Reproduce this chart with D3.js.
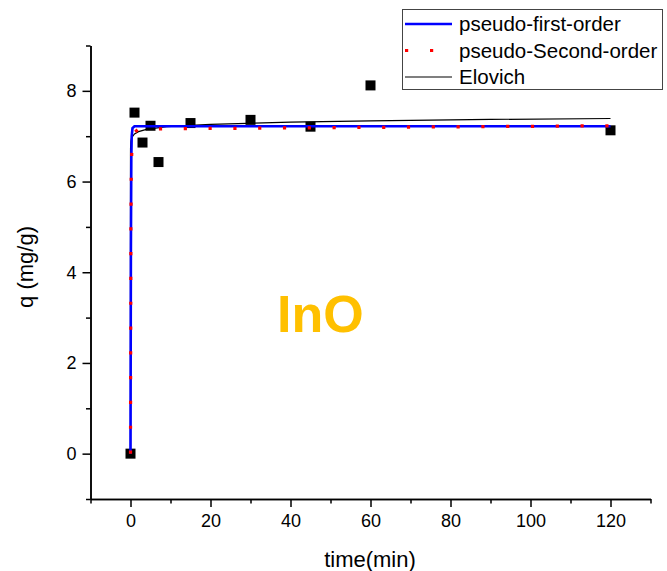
<!DOCTYPE html>
<meta charset="utf-8">
<script src="https://d3js.org/d3.v7.min.js"></script>
<style>
  body { margin: 0; background: #fff; }
  text { font-family: Arial, "Liberation Sans", sans-serif; }
</style>
<div id="chart"></div>
<script>

// measured points
var timeData = [0, 1, 3, 5, 7, 15, 30, 45, 60, 120];
var qData = [0, 7.52, 6.86, 7.23, 6.43, 7.29, 7.36, 7.21, 8.12, 7.13];

// fitted curves
var pfoTime = [0, 0.1, 0.2, 0.3, 0.5, 1, 120];
var pfoQ = [0, 4.5, 6.5, 7.0, 7.18, 7.22, 7.22];

var psoTime = [0, 0.1, 0.2, 0.4, 1, 2, 120];
var psoQ = [0, 5.0, 6.3, 6.85, 7.08, 7.16, 7.23];

var eloTime = [0, 0.001, 0.01, 0.1, 0.3, 1, 2, 4, 9, 20, 40, 60, 90, 120];
var eloQ = [0, 6.56, 6.73, 6.89, 6.97, 7.05, 7.10, 7.15, 7.21, 7.26, 7.31, 7.34, 7.37, 7.39];

var xMajor = [0, 20, 40, 60, 80, 100, 120];
var xMinor = [-10, 10, 30, 50, 70, 90, 110, 130];
var yMajor = [0, 2, 4, 6, 8];
var yMinor = [-1, 1, 3, 5, 7, 9];

var legendNames = ["pseudo-first-order", "pseudo-Second-order", "Elovich"];

var width = 667, height = 571;

var svg = d3.select("#chart")
  .append("svg")
    .attr("width", width)
    .attr("height", height);

var x = d3.scaleLinear().domain([-10, 130]).range([90.5, 650.5]);
var y = d3.scaleLinear().domain([-1, 9]).range([499, 45.5]);

// axes
var xAxis = svg.append("g")
  .attr("transform", "translate(0,499)")
  .call(d3.axisBottom(x).tickValues(xMajor).tickSize(8).tickSizeOuter(0).tickPadding(7));
svg.append("g")
  .attr("transform", "translate(0,499)")
  .call(d3.axisBottom(x).tickValues(xMinor).tickSize(4.5).tickSizeOuter(0).tickFormat(""));

var yAxis = svg.append("g")
  .attr("transform", "translate(90.5,0)")
  .call(d3.axisLeft(y).tickValues(yMajor).tickSize(8).tickSizeOuter(0).tickPadding(6));
svg.append("g")
  .attr("transform", "translate(90.5,0)")
  .call(d3.axisLeft(y).tickValues(yMinor).tickSize(4.5).tickSizeOuter(0).tickFormat(""));

svg.selectAll(".domain, .tick line")
  .attr("stroke", "#000")
  .attr("stroke-width", 1.5);
svg.selectAll(".tick text")
  .attr("fill", "#000")
  .style("font-size", "18px");

// axis titles
svg.append("text")
  .attr("x", 370)
  .attr("y", 567)
  .attr("text-anchor", "middle")
  .style("font-size", "22px")
  .text("time(min)");

svg.append("text")
  .attr("transform", "translate(33,267) rotate(-90)")
  .attr("text-anchor", "middle")
  .style("font-size", "22px")
  .text("q (mg/g)");

// data squares
svg.selectAll("rect.pt")
  .data(timeData)
  .enter()
  .append("rect")
    .attr("class", "pt")
    .attr("x", function(d){ return x(d) - 5 })
    .attr("y", function(d, i){ return y(qData[i]) - 5 })
    .attr("width", 10)
    .attr("height", 10)
    .attr("fill", "#000");

var line = d3.line()
  .x(function(d){ return x(d[0]) })
  .y(function(d){ return y(d[1]) });

var pfo = pfoTime.map(function(t, i){ return [t, pfoQ[i]] });
var pso = psoTime.map(function(t, i){ return [t, psoQ[i]] });
var elo = eloTime.map(function(t, i){ return [t, eloQ[i]] });

svg.append("path")
  .attr("d", line(elo))
  .attr("fill", "none")
  .attr("stroke", "#000")
  .attr("stroke-width", 1.2);

svg.append("path")
  .attr("d", line(pfo))
  .attr("fill", "none")
  .attr("stroke", "#0000ff")
  .attr("stroke-width", 2.6);

svg.append("path")
  .attr("d", line(pso))
  .attr("fill", "none")
  .attr("stroke", "#ff0000")
  .attr("stroke-width", 3.2)
  .attr("stroke-dasharray", "3.2,21.6");

// InO label
svg.append("text")
  .attr("x", 277)
  .attr("y", 332)
  .attr("fill", "#ffc000")
  .style("font-size", "52px")
  .style("font-weight", "bold")
  .text("InO");

// legend
var legend = svg.append("g");
legend.append("rect")
  .attr("x", 402.5)
  .attr("y", 9.5)
  .attr("width", 260)
  .attr("height", 80)
  .attr("fill", "#fff")
  .attr("stroke", "#444")
  .attr("stroke-width", 1);

var legendStyles = [
  { stroke: "#0000ff", width: 2.6, dash: null },
  { stroke: "#ff0000", width: 3.2, dash: "3.2,21.8" },
  { stroke: "#000", width: 1.2, dash: null }
];
var legendY = [24, 50.5, 77];

legendNames.forEach(function(name, i){
  var s = legendStyles[i];
  legend.append("line")
    .attr("x1", 405)
    .attr("x2", 452)
    .attr("y1", legendY[i])
    .attr("y2", legendY[i])
    .attr("stroke", s.stroke)
    .attr("stroke-width", s.width)
    .attr("stroke-dasharray", s.dash);
  legend.append("text")
    .attr("x", 459)
    .attr("y", legendY[i])
    .attr("dy", "0.36em")
    .style("font-size", "20.5px")
    .text(name);
});

</script>
